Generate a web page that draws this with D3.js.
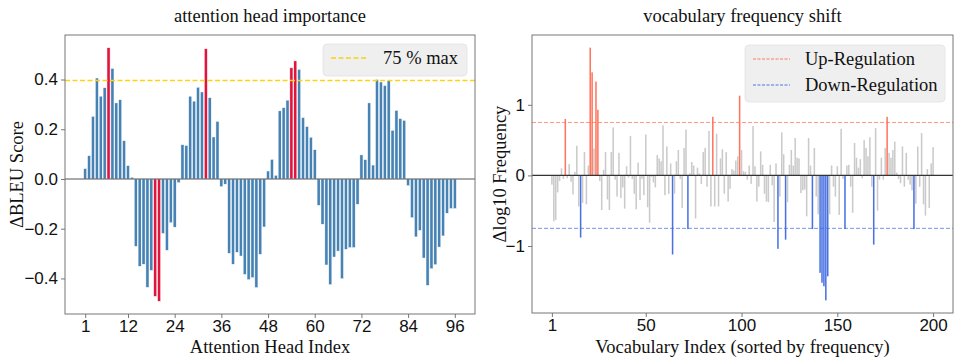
<!DOCTYPE html>
<html>
<head>
<meta charset="utf-8">
<script src="https://cdn.jsdelivr.net/npm/d3@7"></script>
<style>
  body { margin: 0; background: #fff; }
  svg { font-family: "Liberation Serif", "Times New Roman", serif; }
</style>
</head>
<body>
<svg id="chart" width="954" height="358"></svg>
<script>
// ---- data ----
const headScores = [
  0.042, 0.094, 0.252, 0.406, 0.333, 0.367, 0.528, 0.445, 0.306, 0.319, 0.154, 0.054,
  0.007, -0.271, -0.351, -0.343, -0.436, -0.368, -0.472, -0.492, -0.219, -0.287, -0.176, -0.194,
  -0.015, 0.138, 0.135, 0.333, 0.313, 0.369, 0.350, 0.524, 0.327, 0.169, 0.232, -0.031,
  -0.021, -0.299, -0.343, -0.295, -0.310, -0.384, -0.405, -0.397, -0.437, -0.303, -0.193, 0.032,
  0.079, 0.015, 0.274, 0.287, 0.317, 0.447, 0.475, 0.441, 0.247, 0.211, 0.168, 0.118,
  -0.106, -0.182, -0.346, -0.425, -0.314, -0.290, -0.401, -0.283, -0.276, -0.276, -0.102, 0.097,
  0.078, 0.306, 0.056, 0.400, 0.390, 0.376, 0.397, 0.196, 0.276, 0.243, 0.236, -0.027,
  -0.156, -0.233, -0.207, -0.318, -0.428, -0.361, -0.345, -0.274, -0.229, -0.138, -0.119, -0.119
]
const headIndex = headScores.map((d, i) => i + 1)
const headHighlight = [7, 19, 20, 32, 54, 55]
const headTicks = [1, 12, 24, 36, 48, 60, 72, 84, 96]
const headYTicks = [-0.4, -0.2, 0, 0.2, 0.4]
const headMaxFrac = 0.75

const vocabShift = [
  -0.13, -0.65, -0.63, -0.24, -0.08, 0.10, -0.05, 0.80, -0.04, 0.16,
  -0.09, -0.27, 0.05, 0.42, -0.44, -0.88, -0.39, 0.33, -0.41, 0.14,
  1.81, 1.46, 0.38, 1.33, 0.93, -0.08, -0.49, 0.08, 0.33, -0.34,
  -0.49, 0.33, 0.68, -0.06, -0.30, 0.32, -0.32, -0.17, -0.47, 0.13,
  -0.03, 0.56, -0.05, -0.26, -0.48, 0.18, -0.35, -0.05, -0.28, 0.58,
  -0.45, -0.67, -0.02, -0.10, -0.17, 0.29, 0.24, 0.20, 0.71, -0.28,
  0.41, -0.26, 0.17, -1.12, -0.26, 0.20, 0.36, -0.05, -0.46, 0.39,
  0.65, -0.76, 0.03, 0.19, 0.14, -0.61, 0.11, 0.03, -0.12, 0.33,
  0.39, -0.16, 0.63, -0.44, 0.83, -0.44, 0.59, -0.44, 0.24, 0.37,
  -0.26, 0.33, -0.37, -0.19, 0.09, 0.07, 0.21, 0.27, 1.13, 0.36,
  0.06, 0.05, -0.06, 0.14, -0.12, 0.70, 0.13, -0.37, -0.16, 0.34,
  0.15, -0.26, -0.37, -0.38, 0.15, -0.14, -0.66, 0.17, -1.04, -0.30,
  0.61, 0.30, -0.91, -0.38, 0.15, 0.36, 0.14, 0.53, 0.25, 0.24,
  -0.25, -0.21, -0.20, -0.58, 0.53, 0.14, -0.76, 0.39, -0.30, -0.55,
  -1.38, -1.52, -1.57, -1.77, -1.43, -0.55, 0.14, -0.16, -0.30, 0.13,
  -0.56, 0.66, -0.05, -0.76, 0.14, 0.15, -0.16, -0.53, 0.46, 0.25,
  0.11, 0.23, -0.04, 0.50, 0.39, 0.27, 0.54, -0.16, -0.98, 0.67,
  -0.50, -0.06, 0.25, -0.06, 0.39, 0.83, 0.32, 0.25, 0.36, 0.48,
  0.04, -0.05, -0.11, 0.41, -0.16, 0.32, -0.06, -0.13, -0.21, -0.76,
  -0.40, 0.41, -0.16, 0.60, -0.41, -0.57, 0.09, -0.46, 0.17, 0.40
]
const vocabIndex = vocabShift.map((d, i) => i + 1)
const vocabTicks = [1, 50, 100, 150, 200]
const vocabYTicks = [-1, 0, 1]
const regThreshold = 0.75
const legendLabels = ['Up-Regulation', 'Down-Regulation']

// ---- styles ----
const barBlue = '#4682b4'
const barRed = '#e0143c'
const upColor = '#ff6e54'
const downColor = '#3f69e0'
const grayBar = '#c4c4c4'
const spineColor = '#777'
const textColor = '#111'
const tickFont = '17px'
const labelFont = '18.5px'
const titleFont = '18.5px'
const legendFont = '18.5px'

const svg = d3.select('#chart')

// matplotlib style 5% margins around bar extents
let paddedDomain = function (lo, hi) {
  let m = (hi - lo) * 0.05
  return [lo - m, hi + m]
}

let setupPanel = function (box, xDomain, yDomain) {
  let g = svg.append('g')
  let x = d3.scaleLinear().domain(xDomain).range([box.left, box.right])
  let y = d3.scaleLinear().domain(yDomain).range([box.bottom, box.top])
  return {g, x, y, box}
}

let drawFrame = function (p, xTicks, yTicks, yFormat, title, xLabel, yLabel, yLabelX) {
  let {g, x, y, box} = p
  let xa = g.append('g')
    .attr('transform', `translate(0, ${box.bottom})`)
    .call(d3.axisBottom(x).tickValues(xTicks).tickSize(4).tickPadding(2).tickFormat(d3.format('d')))
  let ya = g.append('g')
    .attr('transform', `translate(${box.left}, 0)`)
    .call(d3.axisLeft(y).tickValues(yTicks).tickSize(4).tickPadding(3).tickFormat(yFormat))
  for (let a of [xa, ya]) {
    a.select('.domain').remove()
    a.selectAll('.tick line').attr('stroke', spineColor)
    a.selectAll('.tick text')
      .style('font-size', tickFont)
      .style('font-family', 'inherit')
      .attr('fill', textColor)
  }
  g.append('rect')
    .attr('x', box.left).attr('y', box.top)
    .attr('width', box.right - box.left).attr('height', box.bottom - box.top)
    .attr('fill', 'none').attr('stroke', spineColor).attr('stroke-width', 1)
  g.append('text')
    .attr('x', (box.left + box.right) / 2).attr('y', 22)
    .attr('text-anchor', 'middle').style('font-size', titleFont).attr('fill', textColor)
    .text(title)
  g.append('text')
    .attr('x', (box.left + box.right) / 2).attr('y', 353)
    .attr('text-anchor', 'middle').style('font-size', labelFont).attr('fill', textColor)
    .text(xLabel)
  g.append('text')
    .attr('transform', `translate(${yLabelX}, ${(box.top + box.bottom) / 2}) rotate(-90)`)
    .attr('text-anchor', 'middle').style('font-size', labelFont).attr('fill', textColor)
    .text(yLabel)
}

let drawLegend = function (g, lx, ly, w, h, items) {
  let lg = g.append('g').attr('transform', `translate(${lx}, ${ly})`)
  lg.append('rect')
    .attr('width', w).attr('height', h).attr('rx', 4)
    .attr('fill', '#efefef').attr('stroke', '#e2e2e2').attr('stroke-width', 0.8)
  items.forEach((it, i) => {
    let cy = 14 + i * 26
    lg.append('line')
      .attr('x1', 8).attr('x2', 45).attr('y1', cy).attr('y2', cy)
      .attr('stroke', it.color).attr('stroke-width', it.width)
      .attr('stroke-dasharray', it.dash).attr('opacity', it.opacity)
    lg.append('text')
      .attr('x', it.textX).attr('y', cy + 6)
      .style('font-size', legendFont).attr('fill', textColor)
      .text(it.label)
  })
}

// ---- left panel: attention head importance ----
let left = setupPanel({left: 65, top: 35, right: 475, bottom: 314},
  paddedDomain(0.6, 96.4),
  paddedDomain(d3.min(headScores), d3.max(headScores)))

left.g.append('g').selectAll('rect')
  .data(headIndex)
  .enter()
  .append('rect')
  .attr('x', d => left.x(d - 0.4))
  .attr('width', d => left.x(d + 0.4) - left.x(d - 0.4))
  .attr('y', d => left.y(Math.max(0, headScores[d - 1])))
  .attr('height', d => Math.abs(left.y(headScores[d - 1]) - left.y(0)))
  .attr('fill', d => headHighlight.includes(d) ? barRed : barBlue)
  .attr('stroke', '#fff').attr('stroke-width', 0.5)

left.g.append('line')
  .attr('x1', left.box.left).attr('x2', left.box.right)
  .attr('y1', left.y(0)).attr('y2', left.y(0))
  .attr('stroke', '#555').attr('stroke-width', 1.2)

let maxLine = headMaxFrac * d3.max(headScores)
left.g.append('line')
  .attr('x1', left.box.left).attr('x2', left.box.right)
  .attr('y1', left.y(maxLine)).attr('y2', left.y(maxLine))
  .attr('stroke', '#fcd116').attr('stroke-width', 1.5).attr('stroke-dasharray', '5,2.5')

drawFrame(left, headTicks, headYTicks, d3.format('.1f'),
  'attention head importance', 'Attention Head Index', 'ΔBLEU Score', 23)

drawLegend(left.g, 323, 44, 144, 32, [
  {label: '75 % max', color: '#fcd116', width: 1.5, dash: '5,2.5', opacity: 1, textX: 60}
])

// ---- right panel: vocabulary frequency shift ----
let right = setupPanel({left: 532, top: 35, right: 953, bottom: 313},
  paddedDomain(0.6, 200.4),
  paddedDomain(d3.min(vocabShift), d3.max(vocabShift)))

let vocabColor = v => v > regThreshold ? upColor : (v < -regThreshold ? downColor : grayBar)

right.g.append('g').selectAll('rect')
  .data(vocabIndex)
  .enter()
  .append('rect')
  .attr('x', d => right.x(d - 0.4))
  .attr('width', d => right.x(d + 0.4) - right.x(d - 0.4))
  .attr('y', d => right.y(Math.max(0, vocabShift[d - 1])))
  .attr('height', d => Math.abs(right.y(vocabShift[d - 1]) - right.y(0)))
  .attr('fill', d => vocabColor(vocabShift[d - 1]))
  .attr('opacity', d => Math.abs(vocabShift[d - 1]) > regThreshold ? 0.95 : 0.9)

for (let t of [regThreshold, -regThreshold]) {
  right.g.append('line')
    .attr('x1', right.box.left).attr('x2', right.box.right)
    .attr('y1', right.y(t)).attr('y2', right.y(t))
    .attr('stroke', t > 0 ? upColor : downColor).attr('stroke-width', 1)
    .attr('stroke-dasharray', '4,2').attr('opacity', 0.7)
}

right.g.append('line')
  .attr('x1', right.box.left).attr('x2', right.box.right)
  .attr('y1', right.y(0)).attr('y2', right.y(0))
  .attr('stroke', '#333').attr('stroke-width', 1.2)

drawFrame(right, vocabTicks, vocabYTicks, d3.format('d'),
  'vocabulary frequency shift', 'Vocabulary Index (sorted by frequency)', 'Δlog10 Frequency', 506)

drawLegend(right.g, 745, 45, 200, 57, [
  {label: legendLabels[0], color: upColor, width: 1.2, dash: '3,1.5', opacity: 0.9, textX: 60},
  {label: legendLabels[1], color: downColor, width: 1.2, dash: '3,1.5', opacity: 0.9, textX: 60}
])
</script>
</body>
</html>
